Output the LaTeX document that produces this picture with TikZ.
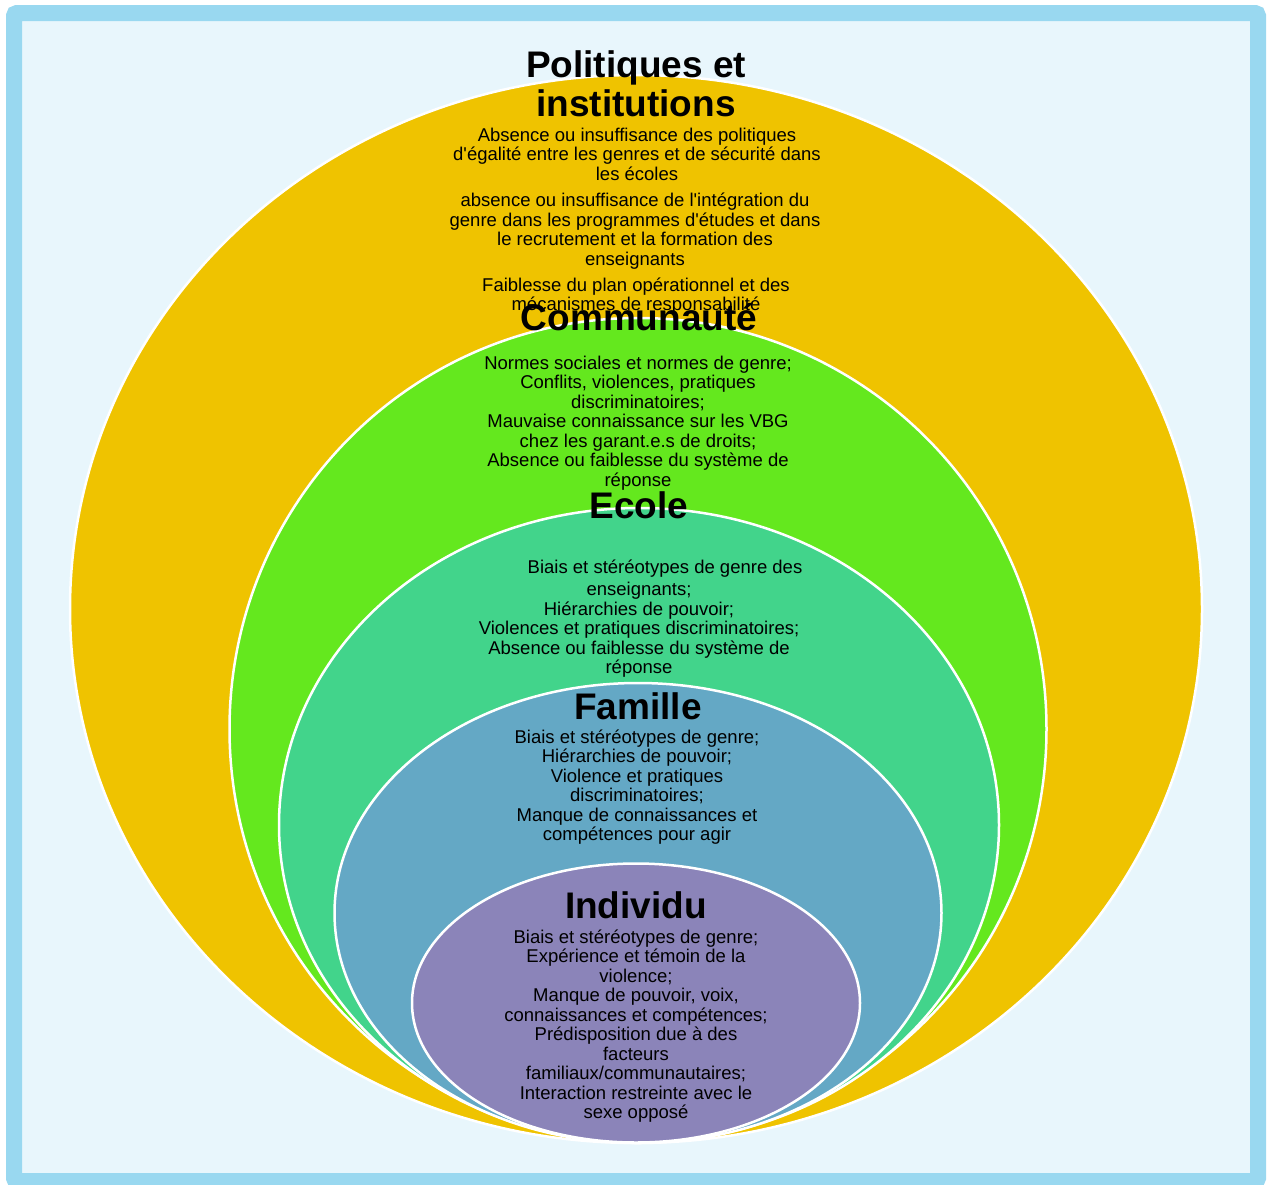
\documentclass[tikz,border=0pt]{standalone}
\usepackage{fontspec}
\setmainfont{Liberation Sans}[Ligatures=TeXOff]
\usetikzlibrary{positioning,shapes}
\usepackage{xcolor}

\definecolor{frameblue}{HTML}{99D8F0}
\definecolor{framebg}{HTML}{E8F6FC}
\definecolor{polyellow}{HTML}{EFC300}
\definecolor{comgreen}{HTML}{64E81E}
\definecolor{ecoteal}{HTML}{42D48B}
\definecolor{famblue}{HTML}{64A8C5}
\definecolor{indpurple}{HTML}{8B84B9}

\begin{document}
\begin{tikzpicture}[x=1pt, y=-1pt,
    ring/.style={ellipse, draw=white, line width=2.5pt, inner sep=0pt},
    title/.style={font=\fontsize{37}{39}\selectfont\bfseries, align=center, inner sep=0pt},
    body/.style={font=\fontsize{18.5}{19.5}\selectfont, align=center, inner sep=0pt}]
    \useasboundingbox (0,0) rectangle (1277,1184);
    \fill[white] (0,0) rectangle (1277,1184);
    % outer frame
    \draw[frameblue, fill=framebg, line width=16pt, rounded corners=3pt] (14,13) rectangle (1258,1181);

    % nested levels, outermost first
    \node (pol) [ring, fill=polyellow, minimum width=1132pt, minimum height=1068pt] at (636,609) {};
    \node (com) [ring, fill=comgreen, minimum width=817pt, minimum height=822pt] at (638,729) {};
    \node (eco) [ring, fill=ecoteal, minimum width=720pt, minimum height=634pt] at (639,825) {};
    \node (fam) [ring, fill=famblue, minimum width=607pt, minimum height=460pt] at (638,913) {};
    \node (ind) [ring, fill=indpurple, minimum width=448pt, minimum height=279pt] at (636,1003) {};

    % Politiques et institutions
    \node (polTitle) [title] at (636,84) {Politiques et\\institutions};
    \node (polA) [body] at (637,154) {Absence ou insuffisance des politiques\\d'égalité entre les genres et de sécurité dans\\les écoles};
    \node (polB) [body] at (635,231) {absence ou insuffisance de l'intégration du\\genre dans les programmes d'études et dans\\le recrutement et la formation des\\enseignants};
    \node (polC) [body] at (636,296) {Faiblesse du plan opérationnel et des\\mécanismes de responsabilité};

    % Communaute
    \node (comTitle) [title] at (639,317) {Communauté};
    \node (comText) [body] at (638,423) {Normes sociales et normes de genre;\\Conflits, violences, pratiques\\discriminatoires;\\Mauvaise connaissance sur les VBG\\chez les garant.e.s de droits;\\Absence ou faiblesse du système de\\réponse};

    % Ecole
    \node (ecoTitle) [title] at (639,505) {Ecole};
    \node (ecoText) [body] at (639,619) {\hspace*{52pt}Biais et stéréotypes de genre des\\[2.5pt]enseignants;\\Hiérarchies de pouvoir;\\Violences et pratiques discriminatoires;\\Absence ou faiblesse du système de\\réponse};

    % Famille
    \node (famTitle) [title] at (638,706) {Famille};
    \node (famText) [body] at (637,787) {Biais et stéréotypes de genre;\\Hiérarchies de pouvoir;\\Violence et pratiques\\discriminatoires;\\Manque de connaissances et\\compétences pour agir};

    % Individu
    \node (indTitle) [title] at (636,905) {Individu};
    \node (indText) [body] at (636,1026) {Biais et stéréotypes de genre;\\Expérience et témoin de la\\violence;\\Manque de pouvoir, voix,\\connaissances et compétences;\\Prédisposition due à des\\facteurs\\familiaux/communautaires;\\Interaction restreinte avec le\\sexe opposé};
\end{tikzpicture}
\end{document}
